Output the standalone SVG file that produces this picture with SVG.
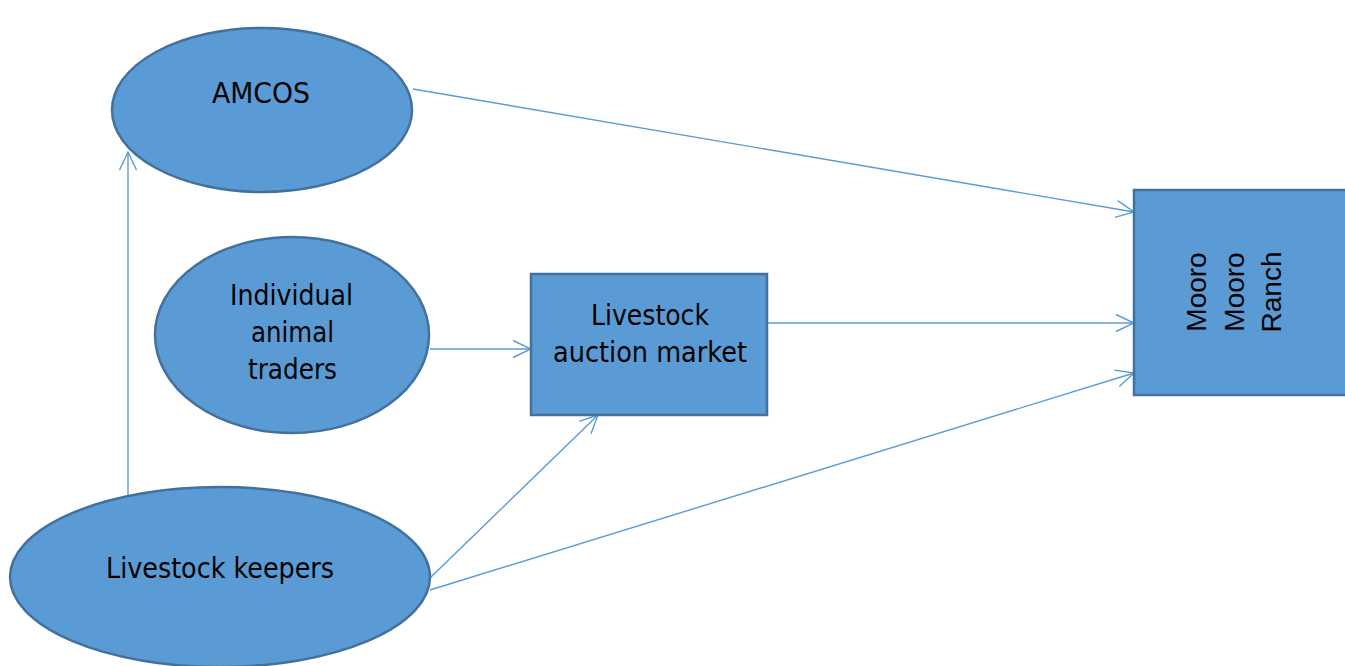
<svg xmlns="http://www.w3.org/2000/svg" width="1345" height="666" viewBox="0 0 1345 666">
<style>
.n{fill:#5b9bd5;stroke:#41719c;stroke-width:2.5}
.t{font-family:"DejaVu Sans",Verdana,sans-serif;font-size:28.5px;fill:#000;text-anchor:middle}
.r{font-family:"Liberation Sans",Arial,sans-serif;font-size:28px;fill:#000;text-anchor:middle}
.c{fill:none;stroke:#5b9bd5;stroke-width:1.4;marker-end:url(#a)}
</style>
<defs>
<marker id="a" viewBox="0 0 20 20" refX="19" refY="10" markerWidth="20" markerHeight="20" markerUnits="userSpaceOnUse" orient="auto">
<path d="M1,1.5 L19,10 L1,18.5" fill="none" stroke="#5b9bd5" stroke-width="1.4"/>
</marker>
</defs>
<rect width="1345" height="666" fill="#fff"/>
<g id="connectors">
<line class="c" x1="413" y1="89" x2="1134" y2="212"/>
<line class="c" x1="430" y1="349" x2="531" y2="349"/>
<line class="c" x1="767" y1="323" x2="1134" y2="323"/>
<line class="c" x1="128" y1="495" x2="128" y2="152"/>
<line class="c" x1="430" y1="578" x2="598" y2="415"/>
<line class="c" x1="430" y1="590" x2="1134" y2="373"/>
</g>
<g id="amcos">
<ellipse class="n" cx="262" cy="110" rx="150" ry="82"/>
<text class="t" x="261" y="103" textLength="98" lengthAdjust="spacingAndGlyphs">AMCOS</text>
</g>
<g id="traders">
<ellipse class="n" cx="292" cy="335" rx="137" ry="98"/>
<text class="t" x="291.5" y="305" textLength="123" lengthAdjust="spacingAndGlyphs">Individual</text>
<text class="t" x="292.5" y="342" textLength="83" lengthAdjust="spacingAndGlyphs">animal</text>
<text class="t" x="292.5" y="379" textLength="89" lengthAdjust="spacingAndGlyphs">traders</text>
</g>
<g id="keepers">
<ellipse class="n" cx="220" cy="577" rx="210" ry="90"/>
<text class="t" x="220" y="578" textLength="228" lengthAdjust="spacingAndGlyphs">Livestock keepers</text>
</g>
<g id="auction">
<rect class="n" x="531" y="274" width="236" height="141"/>
<text class="t" x="650" y="325" textLength="118" lengthAdjust="spacingAndGlyphs">Livestock</text>
<text class="t" x="650" y="362" textLength="194" lengthAdjust="spacingAndGlyphs">auction market</text>
</g>
<g id="mooro">
<rect class="n" x="1134" y="190" width="214" height="205"/>
<text class="r" transform="translate(1206,292) rotate(-90)">Mooro</text>
<text class="r" transform="translate(1244,292) rotate(-90)">Mooro</text>
<text class="r" transform="translate(1281,292) rotate(-90)">Ranch</text>
</g>
</svg>
